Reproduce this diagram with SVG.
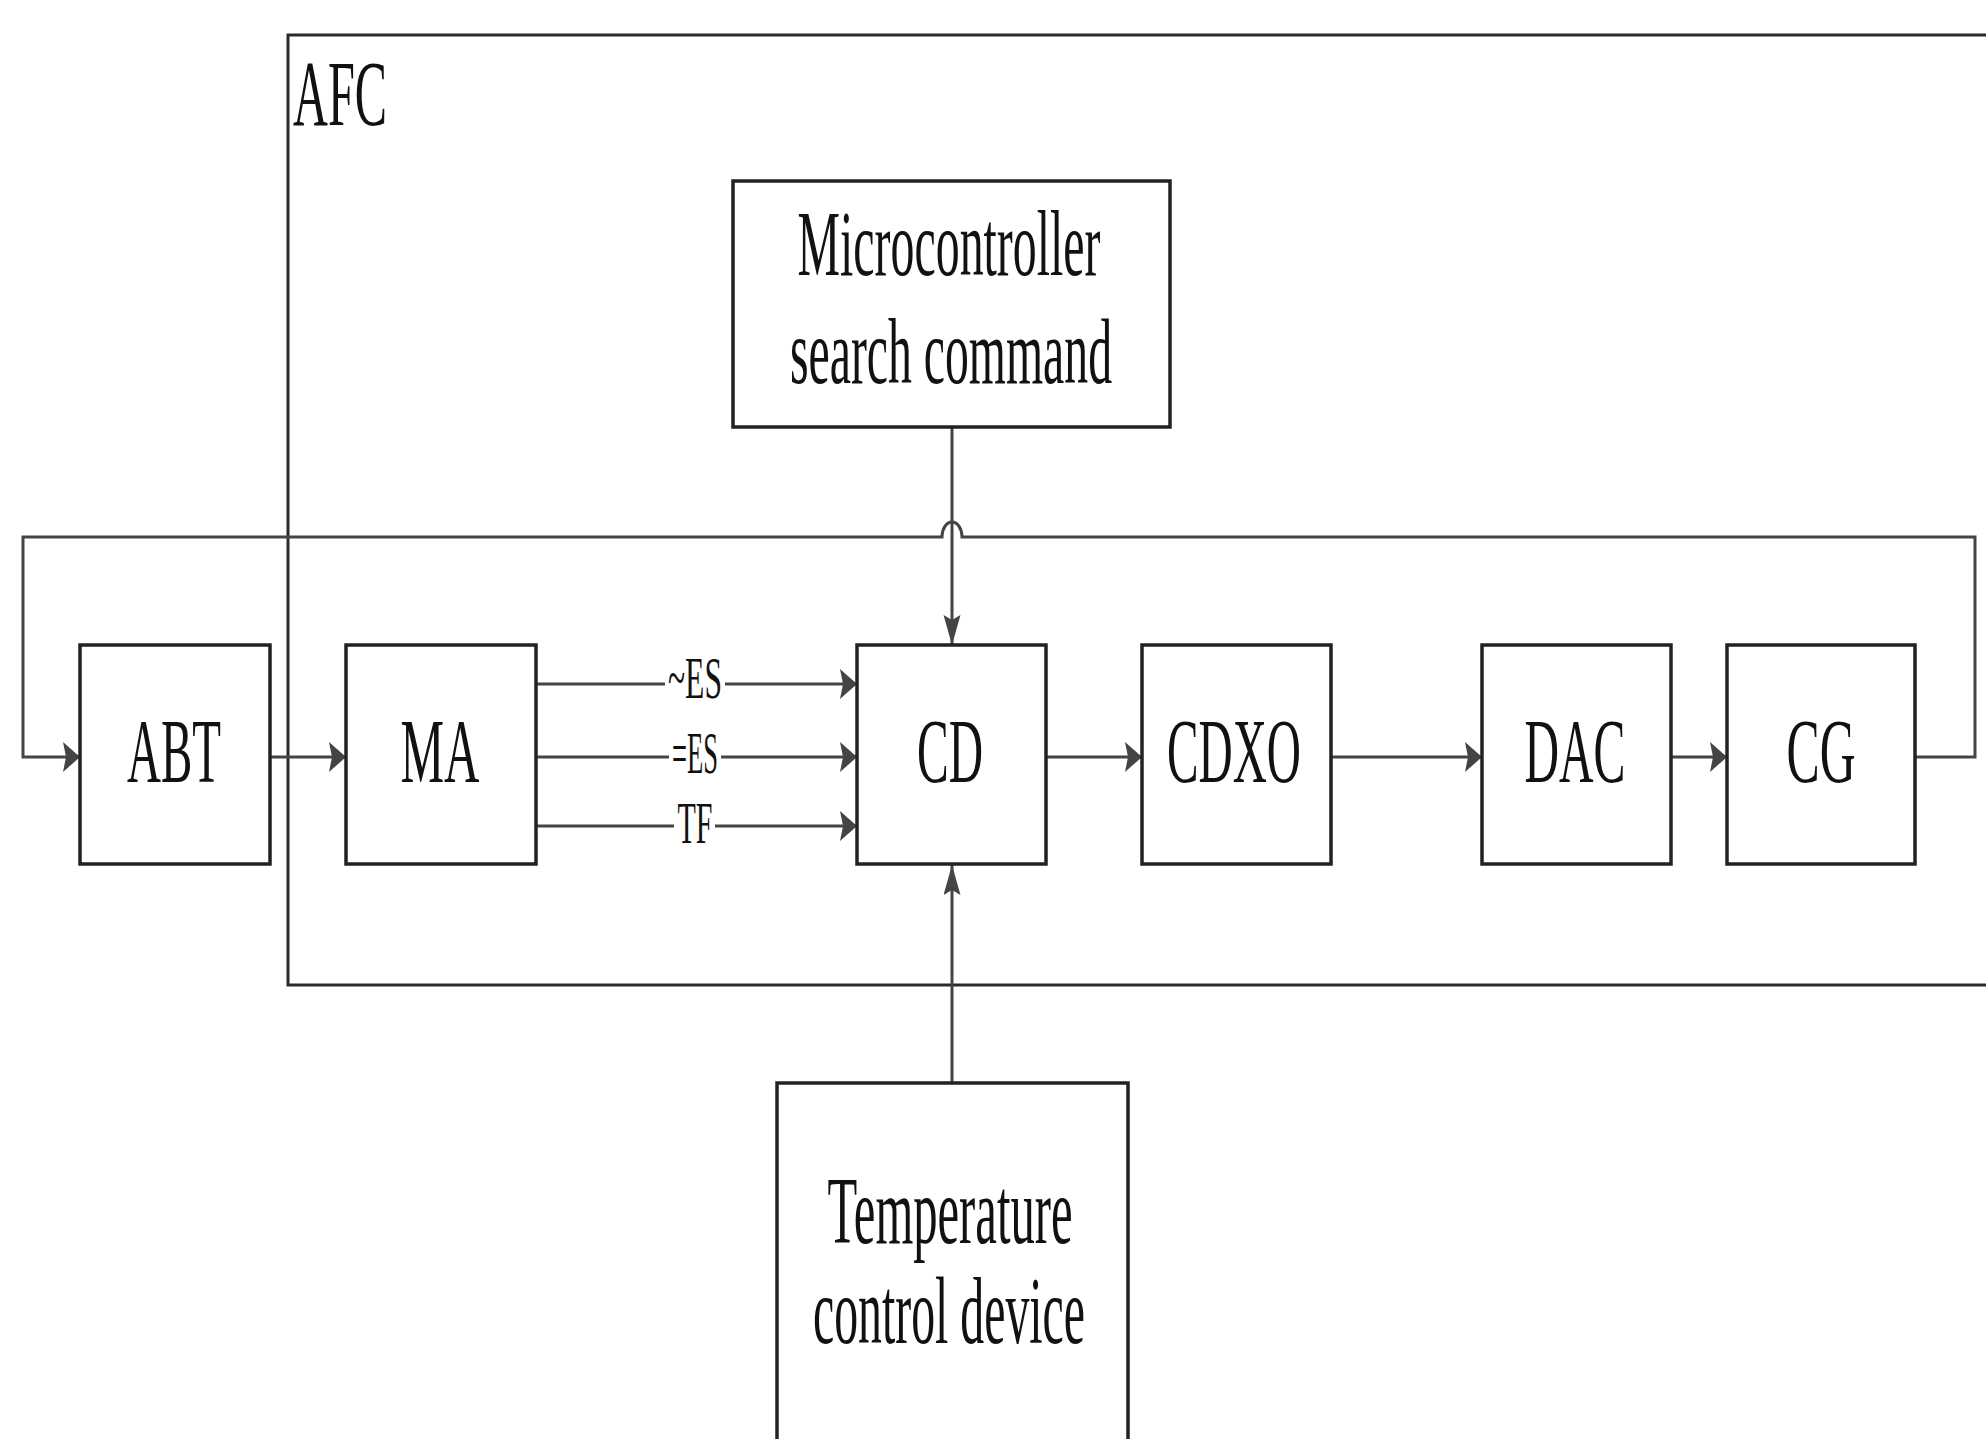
<svg xmlns="http://www.w3.org/2000/svg" width="1986" height="1439" viewBox="0 0 1986 1439">
<style>
.box{fill:#fff;stroke:#222;stroke-width:3.5}
.frame{fill:none;stroke:#2a2a2a;stroke-width:3}
.ln{fill:none;stroke:#444;stroke-width:3}
.t{font-family:"Liberation Serif","Times New Roman",serif;fill:#111;text-anchor:middle}
.big{font-size:92px}
.sm{font-size:60px}
</style>
<defs>
<marker id="ah" markerUnits="userSpaceOnUse" markerWidth="18" markerHeight="30" refX="17" refY="15" orient="auto"><path d="M0,0 L17,15 L0,30 L3,15 z" fill="#444"/></marker>
<marker id="av" markerUnits="userSpaceOnUse" markerWidth="31" markerHeight="18" refX="30" refY="8.5" orient="auto"><path d="M0,0 L30,8.5 L0,17 L5,8.5 z" fill="#444"/></marker>
</defs>
<rect width="1986" height="1439" fill="#fff"/>
<g id="afc">
<rect class="frame" x="288" y="35" width="1720" height="950"/>
<text class="t" style="text-anchor:start;font-size:94px" x="293" y="125" textLength="94" lengthAdjust="spacingAndGlyphs">AFC</text>
</g>
<g id="connectors">
<path class="ln" d="M1915,757 H1975 V537 H962 A10,15 0 0 0 942,537 H23 V757 H80" marker-end="url(#ah)"/>
<path class="ln" d="M270,757 H346" marker-end="url(#ah)"/>
<path class="ln" d="M536,684 H665"/>
<path class="ln" d="M725,684 H857" marker-end="url(#ah)"/>
<path class="ln" d="M536,757 H669"/>
<path class="ln" d="M721,757 H857" marker-end="url(#ah)"/>
<path class="ln" d="M536,826 H674"/>
<path class="ln" d="M715,826 H857" marker-end="url(#ah)"/>
<path class="ln" d="M1046,757 H1142" marker-end="url(#ah)"/>
<path class="ln" d="M1331,757 H1482" marker-end="url(#ah)"/>
<path class="ln" d="M1671,757 H1727" marker-end="url(#ah)"/>
<path class="ln" d="M952,427 V645" marker-end="url(#av)"/>
<path class="ln" d="M952,1083 V865" marker-end="url(#av)"/>
<text class="t sm" x="695" y="698" textLength="54" lengthAdjust="spacingAndGlyphs">~ES</text>
<text class="t sm" x="695" y="773" textLength="46" lengthAdjust="spacingAndGlyphs">=ES</text>
<text class="t sm" x="695" y="843" textLength="35" lengthAdjust="spacingAndGlyphs">TF</text>
</g>
<g id="micro">
<rect class="box" x="733" y="181" width="437" height="246"/>
<text class="t" style="font-size:94px" x="949" y="275" textLength="303" lengthAdjust="spacingAndGlyphs">Microcontroller</text>
<text class="t" style="font-size:94px" x="951" y="383" textLength="322" lengthAdjust="spacingAndGlyphs">search command</text>
</g>
<g id="temp">
<rect class="box" x="777" y="1083" width="351" height="400"/>
<text class="t" style="font-size:96px" x="950" y="1243" textLength="245" lengthAdjust="spacingAndGlyphs">Temperature</text>
<text class="t" style="font-size:96px" x="949" y="1343" textLength="272" lengthAdjust="spacingAndGlyphs">control device</text>
</g>
<g id="abt">
<rect class="box" x="80" y="645" width="190" height="219"/>
<text class="t big" x="174" y="782" textLength="94" lengthAdjust="spacingAndGlyphs">ABT</text>
</g>
<g id="ma">
<rect class="box" x="346" y="645" width="190" height="219"/>
<text class="t big" x="440" y="782" textLength="79" lengthAdjust="spacingAndGlyphs">MA</text>
</g>
<g id="cd">
<rect class="box" x="857" y="645" width="189" height="219"/>
<text class="t big" x="950" y="782" textLength="66" lengthAdjust="spacingAndGlyphs">CD</text>
</g>
<g id="cdxo">
<rect class="box" x="1142" y="645" width="189" height="219"/>
<text class="t big" x="1234" y="782" textLength="134" lengthAdjust="spacingAndGlyphs">CDXO</text>
</g>
<g id="dac">
<rect class="box" x="1482" y="645" width="189" height="219"/>
<text class="t big" x="1575" y="782" textLength="101" lengthAdjust="spacingAndGlyphs">DAC</text>
</g>
<g id="cg">
<rect class="box" x="1727" y="645" width="188" height="219"/>
<text class="t big" x="1821" y="782" textLength="69" lengthAdjust="spacingAndGlyphs">CG</text>
</g>
</svg>
